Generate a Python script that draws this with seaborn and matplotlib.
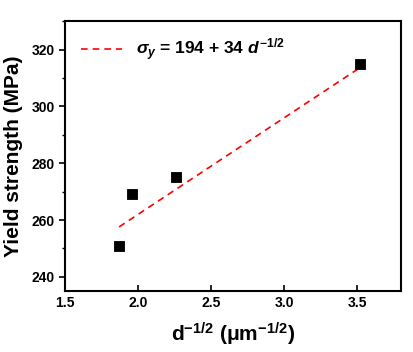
import numpy as np
import pandas as pd
import seaborn as sns
import matplotlib
matplotlib.use("Agg")
import matplotlib.pyplot as plt
from matplotlib.ticker import MultipleLocator

sns.set_style("ticks")
plt.rcParams['font.family'] = ['Liberation Sans', 'DejaVu Sans']
plt.rcParams['font.weight'] = 'bold'
plt.rcParams['text.color'] = 'black'
plt.rcParams['axes.labelcolor'] = 'black'
plt.rcParams['xtick.color'] = 'black'
plt.rcParams['ytick.color'] = 'black'
plt.rcParams['axes.edgecolor'] = 'black'
plt.rcParams['mathtext.fontset'] = 'custom'
plt.rcParams['mathtext.rm'] = 'Liberation Sans:bold'
plt.rcParams['mathtext.it'] = 'Liberation Sans:bold:italic'
plt.rcParams['mathtext.bf'] = 'Liberation Sans:bold'

# Data
d_inv_sqrt = [1.87, 1.96, 2.26, 3.52]
yield_strength = [251, 269, 275, 315]
fit_intercept = 194
fit_slope = 34

data = pd.DataFrame({"x": d_inv_sqrt, "y": yield_strength})
fit_x = [min(d_inv_sqrt), max(d_inv_sqrt)]
fit = pd.DataFrame({"x": fit_x, "y": [fit_intercept + fit_slope * v for v in fit_x]})

fig, ax = plt.subplots(figsize=(4.14, 3.52), dpi=100)

sns.lineplot(data=fit, x="x", y="y", ax=ax, color="red", linestyle=(0, (4, 3)),
             linewidth=1.2, label=r"$\sigma_y$ = 194 + 34 $d^{-1/2}$")
sns.scatterplot(data=data, x="x", y="y", ax=ax, marker="s", s=60, color="black",
                edgecolor="black", zorder=3)

ax.set_xlim(1.5, 3.8)
ax.set_ylim(235, 330)
ax.xaxis.set_major_locator(MultipleLocator(0.5))
ax.yaxis.set_major_locator(MultipleLocator(20))
ax.yaxis.set_minor_locator(MultipleLocator(10))
ax.xaxis.set_minor_locator(MultipleLocator(0.25))

ax.tick_params(axis='y', which='major', direction='out', length=4, width=1.2, labelsize=10)
ax.tick_params(axis='y', which='minor', direction='out', length=2, width=1)
ax.tick_params(axis='x', which='major', direction='in', length=4, width=1.2, labelsize=10)
ax.tick_params(axis='x', which='minor', length=0)
for lab in ax.get_xticklabels() + ax.get_yticklabels():
    lab.set_fontweight('bold')

for sp in ax.spines.values():
    sp.set_linewidth(1.5)

ax.set_xlabel(r"d$^{-1/2}$ (μm$^{-1/2}$)", fontsize=15, fontweight='bold', labelpad=8)
ax.set_ylabel("Yield strength (MPa)", fontsize=15, fontweight='bold', labelpad=6)

leg = ax.legend(loc="upper left", frameon=False, fontsize=12.5, handlelength=2.4,
                borderaxespad=0.5)

fig.subplots_adjust(left=0.157, right=0.969, top=0.94, bottom=0.173)
fig.savefig("out.png", dpi=100)
